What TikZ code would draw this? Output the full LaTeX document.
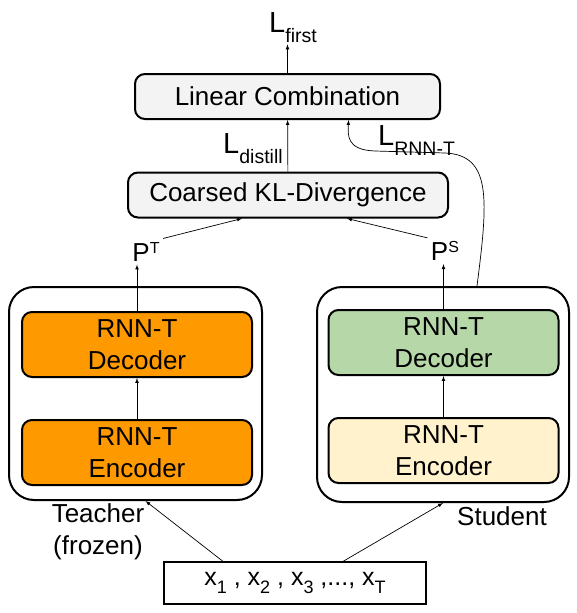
\documentclass[tikz,border=0pt]{standalone}
\usepackage{fontspec}
\setmainfont{Liberation Sans}
\usepackage{tikz}
\usetikzlibrary{arrows}
\definecolor{lgray}{HTML}{F3F3F3}
\definecolor{torange}{HTML}{FF9900}
\definecolor{sgreen}{HTML}{B6D7A8}
\definecolor{syellow}{HTML}{FFF2CC}
\newcommand{\Lsub}[1]{{\fontsize{29}{29}\selectfont L}\raisebox{-10pt}{\fontsize{19.5}{20}\selectfont #1}}
\newcommand{\Psup}[1]{P\raisebox{8pt}{\fontsize{16}{16}\selectfont #1}}
\newcommand{\xsub}[1]{x\raisebox{-8pt}{\fontsize{18}{18}\selectfont #1}}
\tikzset{
	txt/.style={font=\fontsize{26}{32}\selectfont},
	lossbox/.style={txt,draw,line width=2pt,rounded corners=10pt,fill=lgray,inner sep=0pt,minimum height=45pt},
	rnnbox/.style={txt,draw,line width=2pt,rounded corners=10pt,align=center,inner sep=0pt,minimum width=230pt,minimum height=65pt},
	outerbox/.style={draw,line width=2pt,rounded corners=25pt,inner sep=0pt},
	conn/.style={->,>=latex,line width=0.7pt}
}
\begin{document}
\begin{tikzpicture}[x=1pt,y=-1pt] % 坐标按像素给出
				\useasboundingbox (0,0) rectangle (576,613);
				\node[outerbox,minimum width=253pt,minimum height=213pt](TO) at (135.5,393.5) {};
				\node[outerbox,minimum width=252pt,minimum height=215pt](SO) at (443,394.5) {};
				\node[rnnbox,fill=torange](TD) at (137,344.5) {RNN-T\\Decoder};
				\node[rnnbox,fill=torange](TE) at (137,452.5) {RNN-T\\Encoder};
				\node[rnnbox,fill=sgreen](SD) at (443.5,342.5) {RNN-T\\Decoder};
				\node[rnnbox,fill=syellow](SE) at (443.5,450.5) {RNN-T\\Encoder};
				\node[lossbox,minimum width=305pt](LC) at (287.5,96.5) {Linear Combination};
				\node[lossbox,minimum width=320pt](KL) at (288,195) {Coarsed KL-Divergence};
				\node[txt](PT) at (146,251.5) {\Psup{T}};
				\node[txt](PS) at (445,251) {\Psup{S}};
				\node[anchor=base west,inner sep=2pt](Lf) at (267,32) {\Lsub{first}};
				\node[anchor=base west,inner sep=2pt](Ld) at (221,153) {\Lsub{distill}};
				\node[anchor=base west,inner sep=2pt](LR) at (376,145) {\Lsub{RNN-T}};
				\node[txt,align=center](T) at (98,532) {Teacher\\(frozen)};
				\node[txt](S) at (502,516) {Student};
				\node[draw,line width=1.2pt,minimum width=262pt,minimum height=42pt,font=\fontsize{25}{30}\selectfont](X) at (295,583) {\xsub{1} , \xsub{2} , \xsub{3} ,..., \xsub{T}};
				\draw[conn] (LC.north) -- (LC.north |- Lf.south);
				\draw[conn] (KL) -- (LC);
				\draw[conn] (PT.north east) -- ([xshift=-46pt]KL.south);
				\draw[conn] (PS.north west) -- ([xshift=59pt]KL.south);
				\draw[conn] (TD.north) -- (TD.north |- PT.south);
				\draw[conn] (SD.north) -- (SD.north |- PS.south);
				\draw[conn] (TE) -- (TD);
				\draw[conn] (SE) -- (SD);
				\draw[conn] ([xshift=-72pt]X.north) -- ([xshift=10pt]TO.south);
				\draw[conn] ([xshift=48pt]X.north) -- (SO.south);
				\draw[conn] ([xshift=34pt]SO.north) .. controls (488,200) and (492,155) .. (445,153) -- (375,151) .. controls (346,150) and (348,135) .. ([xshift=61pt]LC.south);
			\end{tikzpicture}
\end{document}
